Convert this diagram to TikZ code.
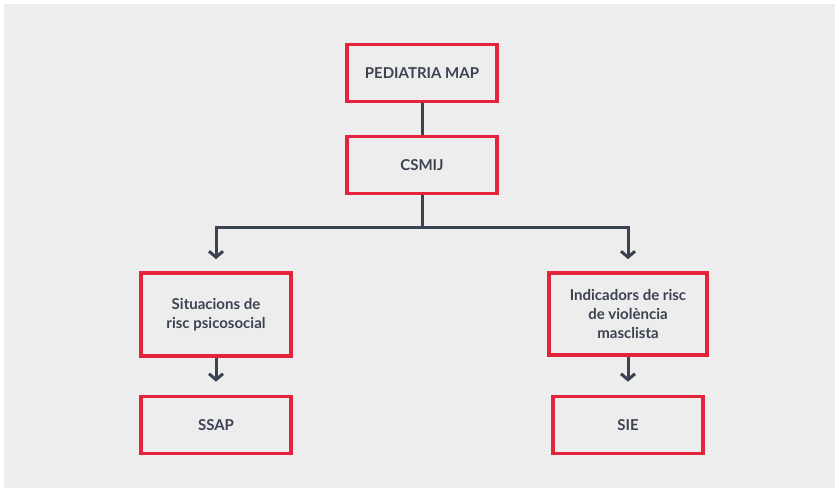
\documentclass[tikz,border=0pt]{standalone}
\usepackage{fontspec}
\setmainfont{Lato}
\usetikzlibrary{arrows.meta}
\definecolor{bgc}{HTML}{EDEDED}
\definecolor{redc}{HTML}{E3243B}
\definecolor{linec}{HTML}{3B4252}
\tikzset{
  box/.style={draw=redc, line width=3.6pt, fill=bgc, inner sep=0pt, align=center,
    text=linec, font=\bfseries\fontsize{15}{19}\selectfont},
  conn/.style={draw=linec, line width=3pt},
  arr/.style={conn, -{Straight Barb[length=6pt,width=14pt,line width=3pt]}}
}
\begin{document}
\begin{tikzpicture}[x=1pt,y=-1pt]
\useasboundingbox (0,0) rectangle (839,491);
\fill[bgc] (4,4) rectangle (835,488);
\node[box, minimum width=150pt, minimum height=57pt] (ped) at (422,73) {PEDIATRIA MAP};
\node[box, minimum width=150pt, minimum height=57pt] (csm) at (422,165) {CSMIJ};
\node[box, minimum width=150pt, minimum height=83pt] (sit) at (216,314.5) {Situacions de\\risc psicosocial};
\node[box, minimum width=158pt, minimum height=82pt] (ind) at (628,314) {Indicadors de risc\\de violència\\masclista};
\node[box, minimum width=150pt, minimum height=57pt] (ssap) at (216,425) {SSAP};
\node[box, minimum width=150pt, minimum height=57pt] (sie) at (628,425) {SIE};
\coordinate (split) at (422,227);
\coordinate (sitin) at ([yshift=12pt]sit.north);
\coordinate (indin) at ([yshift=12pt]ind.north);
\coordinate (ssapin) at ([yshift=13pt]ssap.north);
\coordinate (siein) at ([yshift=13pt]sie.north);
\draw[conn] (ped) -- (csm);
\draw[conn] (csm) -- (split);
\draw[arr] (split) -| (sitin);
\draw[arr] (split) -| (indin);
\draw[arr] (sit) -- (ssapin);
\draw[arr] (ind) -- (siein);
\end{tikzpicture}
\end{document}
